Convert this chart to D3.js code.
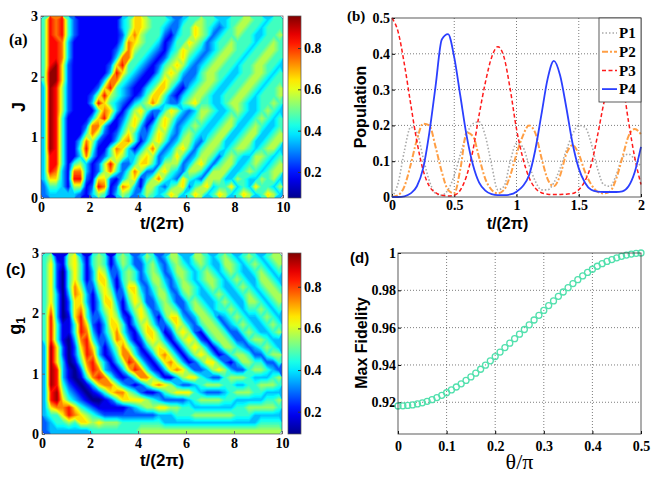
<!DOCTYPE html>
<html>
<head>
<meta charset="utf-8">
<script src="https://cdnjs.cloudflare.com/ajax/libs/d3/7.8.5/d3.min.js"></script>
<style>
    body { margin: 0; background: #fff; }
    .tick text { font-family: "Liberation Serif", serif; font-weight: bold; font-size: 14px; fill: #000; }
    .axis-label { font-family: "Liberation Sans", Arial, sans-serif; font-weight: bold; fill: #000; }
    .panel-tag { font-weight: bold; fill: #000; }
</style>
</head>
<body>
<svg id="chart"></svg>
<script>
// Size of the whole figure
var svgWidth = 654;
var svgHeight = 491;

// jet colour map, same stops as the colour bars
var jetStops = [0, 0.125, 0.375, 0.625, 0.875, 1];
var jetColors = ["#00008f", "#0000ff", "#00ffff", "#ffff00", "#ff0000", "#800000"];

// value of each digit in the heat map rows
var levels = [0.08, 0.175, 0.27, 0.365, 0.46, 0.555, 0.65, 0.745, 0.84, 0.935];

// panel (a): one string per row, J = 3 at the top down to J = 0, t/(2pi) from 0 to 10
var heatA = [
    "4878421111111346654443234454433445544344",
    "4878421111111346654432244654323455443444",
    "4878421111111257544421344654234454433445",
    "4887311111111376544312446542344544434454",
    "4887311111112475443213465432345544344554",
    "4887311111113774432124564323455443445544",
    "4896211111126844321245653234554434455443",
    "4996211111138643211356532245544334455434",
    "4996211111377432113465422345543344554344",
    "3985211112684321134664213455433445543445",
    "3985211125854321246642134554334455434445",
    "3985211138643213457532245644334554334454",
    "3985211114763135642246532355433454334543",
    "3984111136841246521465323454334543345434",
    "3984111277311356313564234543345533454334",
    "3984111475212464224653245433455334553345",
    "3984113752113674135642355324553345533455",
    "3984114841147631357423564245543455434553",
    "3884113731246533565234642355424543355434",
    "3884145312585224664255523564245533454345",
    "3873177312574247522564325542555334543455",
    "3663188216621356135743264325553354335453",
    "2443155128712763155324562456344634364435",
    "2333332135413542354346534653465346534653"
];

// panel (c): same layout, g1 = 3 at the top down to g1 = 0
var heatC = [
    "4511563145414542354235533554345434543455",
    "4621564145413542245324543454335543454345",
    "4620464136522454245423554345434543345434",
    "4620464136631454235532454345543454335543",
    "4620475225641366324542355434543345434554",
    "4630376314652256423553245433454334543455",
    "4630266313663146522454224543345433554345",
    "4730267413564135642355423554344543445434",
    "4830168422465214653146632355423454334543",
    "4841148621366413564224653245542345433454",
    "4841148731357421466412565214554224543345",
    "4841037842247631256531356521455422455433",
    "3962026863135753135653135653135543234543",
    "3962025873124774213675313565312455422455",
    "3963014785313587421367531246642135544224",
    "3983102687321368742136764223565322455432",
    "3983101478742124775311356643224555433345",
    "3984210136775321246765322345554433445554",
    "3895321012467754211245666432223455544333",
    "3896432100124666654322223455554433333445",
    "3677864321111123455665544333333344555554",
    "3446876543222222222333444555555544433333",
    "2344546656555444444433333333333333334444",
    "2333333344444444555555555555555555555555"
];

var heatXTicks = [0, 2, 4, 6, 8, 10];
var heatYTicks = [0, 1, 2, 3];
var colorbarTicks = [0.2, 0.4, 0.6, 0.8];

// panel (b): populations against t/(2pi)
var popTime = [0, 0.05, 0.1, 0.15, 0.2, 0.25, 0.3, 0.35, 0.4, 0.45, 0.5, 0.55, 0.6, 0.65, 0.7, 0.75, 0.8,
    0.85, 0.9, 0.95, 1, 1.05, 1.1, 1.15, 1.2, 1.25, 1.3, 1.35, 1.4, 1.45, 1.5, 1.55, 1.6, 1.65, 1.7, 1.75,
    1.8, 1.85, 1.9, 1.95, 2];
var popP1 = [0, 0.04, 0.13, 0.195, 0.18, 0.11, 0.045, 0.01, 0.005, 0.02, 0.06, 0.12, 0.175, 0.205, 0.21,
    0.17, 0.09, 0.02, 0.03, 0.1, 0.15, 0.14, 0.09, 0.045, 0.02, 0.02, 0.04, 0.08, 0.13, 0.175, 0.2, 0.195,
    0.15, 0.08, 0.035, 0.03, 0.06, 0.11, 0.12, 0.105, 0.085];
var popP2 = [0, 0.005, 0.03, 0.09, 0.16, 0.205, 0.2, 0.14, 0.07, 0.02, 0.01, 0.08, 0.18, 0.17, 0.11, 0.05,
    0.02, 0.01, 0.02, 0.06, 0.12, 0.17, 0.2, 0.18, 0.11, 0.05, 0.03, 0.06, 0.12, 0.145, 0.12, 0.07, 0.035,
    0.015, 0.01, 0.015, 0.05, 0.11, 0.17, 0.19, 0.175];
var popP3 = [0.5, 0.46, 0.37, 0.26, 0.155, 0.075, 0.03, 0.012, 0.005, 0.003, 0.005, 0.02, 0.06, 0.13, 0.23,
    0.32, 0.39, 0.42, 0.39, 0.3, 0.19, 0.11, 0.055, 0.025, 0.012, 0.008, 0.007, 0.007, 0.008, 0.01, 0.02,
    0.045, 0.09, 0.17, 0.26, 0.33, 0.36, 0.32, 0.21, 0.11, 0.035];
var popP4 = [0, 0, 0.002, 0.01, 0.03, 0.08, 0.18, 0.31, 0.44, 0.455, 0.39, 0.28, 0.17, 0.09, 0.04, 0.018,
    0.008, 0.005, 0.005, 0.007, 0.015, 0.03, 0.06, 0.13, 0.23, 0.33, 0.38, 0.34, 0.25, 0.15, 0.08, 0.04,
    0.02, 0.015, 0.014, 0.014, 0.014, 0.016, 0.03, 0.07, 0.14];
var popXTicks = [0, 0.5, 1, 1.5, 2];
var popYTicks = [0, 0.1, 0.2, 0.3, 0.4, 0.5];

// panel (d): max fidelity against theta/pi
var theta = [0, 0.01, 0.02, 0.03, 0.04, 0.05, 0.06, 0.07, 0.08, 0.09, 0.1, 0.11, 0.12, 0.13, 0.14, 0.15,
    0.16, 0.17, 0.18, 0.19, 0.2, 0.21, 0.22, 0.23, 0.24, 0.25, 0.26, 0.27, 0.28, 0.29, 0.3, 0.31, 0.32,
    0.33, 0.34, 0.35, 0.36, 0.37, 0.38, 0.39, 0.4, 0.41, 0.42, 0.43, 0.44, 0.45, 0.46, 0.47, 0.48, 0.49, 0.5];
var fidelity = [0.918, 0.9181, 0.9183, 0.9186, 0.9191, 0.9197, 0.9205, 0.9214, 0.9225, 0.9237,
    0.9251, 0.9266, 0.9282, 0.9299, 0.9317, 0.9336, 0.9356, 0.9377, 0.9399, 0.9422,
    0.9445, 0.9469, 0.9493, 0.9517, 0.9541, 0.9565, 0.959, 0.9615, 0.9641, 0.9666,
    0.9692, 0.9718, 0.9743, 0.9768, 0.9791, 0.9814, 0.9836, 0.9857, 0.9877, 0.9896,
    0.9913, 0.9929, 0.9943, 0.9955, 0.9965, 0.9974, 0.9982, 0.9989, 0.9994, 0.9998, 1];
var thetaTicks = [0, 0.1, 0.2, 0.3, 0.4, 0.5];
var fidelityTicks = [0.92, 0.94, 0.96, 0.98, 1];

// Where each panel sits
var boxA = {left: 41, top: 16, width: 242, height: 182};
var boxB = {left: 392, top: 18, width: 249, height: 179};
var boxC = {left: 42, top: 253, width: 240, height: 181};
var boxD = {left: 398, top: 253, width: 243, height: 181};

var svg = d3.select("#chart")
    .attr("width", svgWidth)
    .attr("height", svgHeight);

var defs = svg.append("defs");

// Draws one heat map with its colour bar
function drawHeatmap(id, rows, box, cRange) {
    var xScale = d3.scaleLinear().domain([0, 10]).range([box.left, box.left + box.width]);
    var yScale = d3.scaleLinear().domain([0, 3]).range([box.top + box.height, box.top]);
    var colorScale = d3.scaleLinear()
        .domain(jetStops.map(s => cRange[0] + s * (cRange[1] - cRange[0])))
        .range(jetColors)
        .clamp(true);

    var nx = rows[0].length;
    var ny = rows.length;
    var values = [];
    rows.forEach(function(row) {
        row.split("").forEach(function(ch) {
            values.push(levels[+ch]);
        });
    });

    var contours = d3.contours()
        .size([nx, ny])
        .thresholds(d3.range(0.05, 0.96, 0.02))(values);

    // grid units -> data units -> pixels
    var toPixels = d3.geoTransform({
        point: function(gx, gy) {
            this.stream.point(xScale(gx * 10 / nx), yScale(3 - gy * 3 / ny));
        }
    });

    defs.append("clipPath").attr("id", id + "-clip")
        .append("rect")
        .attr("x", box.left).attr("y", box.top)
        .attr("width", box.width).attr("height", box.height);

    svg.append("g")
        .attr("clip-path", `url(#${id}-clip)`)
        .selectAll("path")
        .data(contours)
        .enter()
        .append("path")
        .attr("d", d3.geoPath(toPixels))
        .attr("fill", d => colorScale(d.value + 0.01));

    // frame
    svg.append("rect")
        .attr("x", box.left).attr("y", box.top)
        .attr("width", box.width).attr("height", box.height)
        .attr("fill", "none")
        .attr("stroke", "#555")
        .attr("stroke-width", 0.7);

    // axes
    svg.append("g")
        .attr("transform", `translate(0, ${box.top + box.height})`)
        .call(d3.axisBottom(xScale).tickValues(heatXTicks).tickSizeInner(-3).tickSizeOuter(0).tickPadding(4)
            .tickFormat(d3.format("d")))
        .call(g => g.select(".domain").remove())
        .call(g => g.selectAll(".tick line").attr("stroke", "#666"));

    svg.append("g")
        .attr("transform", `translate(${box.left}, 0)`)
        .call(d3.axisLeft(yScale).tickValues(heatYTicks).tickSizeInner(-3).tickSizeOuter(0).tickPadding(3)
            .tickFormat(d3.format("d")))
        .call(g => g.select(".domain").remove())
        .call(g => g.selectAll(".tick line").attr("stroke", "#666"));

    // colour bar
    var barX = 288;
    var barWidth = 13;
    var grad = defs.append("linearGradient")
        .attr("id", id + "-grad")
        .attr("x1", 0).attr("y1", 1).attr("x2", 0).attr("y2", 0);
    grad.selectAll("stop")
        .data(d3.range(0, 1.0001, 0.05))
        .enter()
        .append("stop")
        .attr("offset", d => d)
        .attr("stop-color", d => colorScale(cRange[0] + d * (cRange[1] - cRange[0])));

    svg.append("rect")
        .attr("x", barX).attr("y", box.top)
        .attr("width", barWidth).attr("height", box.height)
        .attr("fill", `url(#${id}-grad)`)
        .attr("stroke", "#555")
        .attr("stroke-width", 0.7);

    var barScale = d3.scaleLinear().domain(cRange).range([box.top + box.height, box.top]);
    svg.append("g")
        .attr("transform", `translate(${barX + barWidth}, 0)`)
        .call(d3.axisRight(barScale).tickValues(colorbarTicks).tickSizeInner(-3).tickSizeOuter(0)
            .tickPadding(3).tickFormat(d3.format(".1f")))
        .call(g => g.select(".domain").remove())
        .call(g => g.selectAll(".tick line").attr("stroke", "#333"));
}

drawHeatmap("heatA", heatA, boxA, [0.074, 0.955]);
drawHeatmap("heatC", heatC, boxC, [0.093, 0.962]);

// Labels of the heat maps
svg.append("text")
    .attr("class", "panel-tag")
    .attr("x", 9).attr("y", 45)
    .style("font-family", "Liberation Serif, serif")
    .style("font-size", "16px")
    .text("(a)");

svg.append("text")
    .attr("class", "axis-label")
    .attr("transform", "translate(25, 107) rotate(-90)")
    .attr("text-anchor", "middle")
    .style("font-size", "18px")
    .text("J");

svg.append("text")
    .attr("class", "axis-label")
    .attr("x", boxA.left + boxA.width / 2).attr("y", 229)
    .attr("text-anchor", "middle")
    .style("font-size", "17px")
    .text("t/(2π)");

svg.append("text")
    .attr("class", "panel-tag")
    .attr("x", 6).attr("y", 275)
    .style("font-family", "Liberation Sans, Arial, sans-serif")
    .style("font-size", "16px")
    .text("(c)");

var gLabel = svg.append("text")
    .attr("class", "axis-label")
    .attr("transform", "translate(21, 326) rotate(-90)")
    .attr("text-anchor", "middle")
    .style("font-size", "18px");
gLabel.append("tspan").text("g");
gLabel.append("tspan").attr("dy", 4).style("font-size", "12px").text("1");

svg.append("text")
    .attr("class", "axis-label")
    .attr("x", boxC.left + boxC.width / 2).attr("y", 466)
    .attr("text-anchor", "middle")
    .style("font-size", "17px")
    .text("t/(2π)");

// Draws dotted grid lines of a line panel
function drawFrame(box, xScale, yScale, xGrid, yGrid) {
    svg.append("g").selectAll("line")
        .data(xGrid)
        .enter()
        .append("line")
        .attr("x1", d => xScale(d)).attr("x2", d => xScale(d))
        .attr("y1", box.top).attr("y2", box.top + box.height)
        .attr("stroke", "#444")
        .attr("stroke-width", 0.7)
        .attr("stroke-dasharray", "1,2");

    svg.append("g").selectAll("line")
        .data(yGrid)
        .enter()
        .append("line")
        .attr("x1", box.left).attr("x2", box.left + box.width)
        .attr("y1", d => yScale(d)).attr("y2", d => yScale(d))
        .attr("stroke", "#444")
        .attr("stroke-width", 0.7)
        .attr("stroke-dasharray", "1,2");
}

function drawBox(box) {
    svg.append("rect")
        .attr("x", box.left).attr("y", box.top)
        .attr("width", box.width).attr("height", box.height)
        .attr("fill", "none")
        .attr("stroke", "#333")
        .attr("stroke-width", 0.8);
}

// Panel (b)
var popX = d3.scaleLinear().domain([0, 2]).range([boxB.left, boxB.left + boxB.width]);
var popY = d3.scaleLinear().domain([0, 0.5]).range([boxB.top + boxB.height, boxB.top]);

drawFrame(boxB, popX, popY, [0.5, 1, 1.5], [0.1, 0.2, 0.3, 0.4]);

svg.append("g")
    .attr("transform", `translate(0, ${boxB.top + boxB.height})`)
    .call(d3.axisBottom(popX).tickValues(popXTicks).tickSizeInner(-3).tickSizeOuter(0).tickPadding(3)
        .tickFormat(d3.format("~g")))
    .call(g => g.select(".domain").remove());

svg.append("g")
    .attr("transform", `translate(${boxB.left}, 0)`)
    .call(d3.axisLeft(popY).tickValues(popYTicks).tickSizeInner(-3).tickSizeOuter(0).tickPadding(2)
        .tickFormat(d3.format("~g")))
    .call(g => g.select(".domain").remove());

var popSeries = [
    {name: "P1", values: popP1, color: "#a9a9a9", dash: "1.5,2", width: 1.6},
    {name: "P2", values: popP2, color: "#ff9f45", dash: "6,2,2,2", width: 2},
    {name: "P3", values: popP3, color: "#ff1a1a", dash: "4,2.5", width: 1.5},
    {name: "P4", values: popP4, color: "#2b3fff", dash: null, width: 1.8}
];

var popLine = d3.line()
    .x((d, i) => popX(popTime[i]))
    .y(d => popY(d))
    .curve(d3.curveMonotoneX);

svg.append("g")
    .selectAll("path")
    .data(popSeries)
    .enter()
    .append("path")
    .attr("d", d => popLine(d.values))
    .attr("fill", "none")
    .attr("stroke", d => d.color)
    .attr("stroke-width", d => d.width)
    .attr("stroke-dasharray", d => d.dash);

drawBox(boxB);

// legend box in the top right corner
var legend = svg.append("g").attr("transform", "translate(599, 18)");
legend.append("rect")
    .attr("width", 42).attr("height", 84)
    .attr("fill", "#fff")
    .attr("stroke", "#333")
    .attr("stroke-width", 0.8);

var legendItems = legend.selectAll("g")
    .data(popSeries)
    .enter()
    .append("g")
    .attr("transform", (d, i) => `translate(0, ${15 + i * 18.7})`);

legendItems.append("line")
    .attr("x1", 3).attr("x2", 18)
    .attr("stroke", d => d.color)
    .attr("stroke-width", d => d.width)
    .attr("stroke-dasharray", d => d.dash);

legendItems.append("text")
    .attr("x", 20).attr("dy", "0.35em")
    .style("font-family", "Liberation Serif, serif")
    .style("font-weight", "bold")
    .style("font-size", "15px")
    .text(d => d.name);

svg.append("text")
    .attr("class", "panel-tag")
    .attr("x", 347).attr("y", 21)
    .style("font-family", "Liberation Serif, serif")
    .style("font-size", "15px")
    .text("(b)");

svg.append("text")
    .attr("class", "axis-label")
    .attr("transform", "translate(366, 107) rotate(-90)")
    .attr("text-anchor", "middle")
    .style("font-size", "16px")
    .text("Population");

svg.append("text")
    .attr("class", "axis-label")
    .attr("x", boxB.left + boxB.width / 2 - 9).attr("y", 229)
    .attr("text-anchor", "middle")
    .style("font-size", "16px")
    .text("t/(2π)");

// Panel (d)
var fidX = d3.scaleLinear().domain([0, 0.5]).range([boxD.left, boxD.left + boxD.width]);
var fidY = d3.scaleLinear().domain([0.903, 1]).range([boxD.top + boxD.height, boxD.top]);

drawFrame(boxD, fidX, fidY, [0.1, 0.2, 0.3, 0.4], [0.92, 0.94, 0.96, 0.98]);

svg.append("g")
    .attr("transform", `translate(0, ${boxD.top + boxD.height})`)
    .call(d3.axisBottom(fidX).tickValues(thetaTicks).tickSizeInner(-3).tickSizeOuter(0).tickPadding(7)
        .tickFormat(d3.format("~g")))
    .call(g => g.select(".domain").remove());

svg.append("g")
    .attr("transform", `translate(${boxD.left}, 0)`)
    .call(d3.axisLeft(fidY).tickValues(fidelityTicks).tickSizeInner(-3).tickSizeOuter(0).tickPadding(2)
        .tickFormat(d3.format("~g")))
    .call(g => g.select(".domain").remove());

svg.append("g")
    .selectAll("circle")
    .data(fidelity)
    .enter()
    .append("circle")
    .attr("cx", (d, i) => fidX(theta[i]))
    .attr("cy", d => fidY(d))
    .attr("r", 3)
    .attr("fill", "none")
    .attr("stroke", "#52e0ad")
    .attr("stroke-width", 1.3);

drawBox(boxD);

svg.append("text")
    .attr("class", "panel-tag")
    .attr("x", 350).attr("y", 263)
    .style("font-family", "Liberation Sans, Arial, sans-serif")
    .style("font-size", "15px")
    .text("(d)");

svg.append("text")
    .attr("class", "axis-label")
    .attr("transform", "translate(367, 343) rotate(-90)")
    .attr("text-anchor", "middle")
    .style("font-size", "16px")
    .text("Max Fidelity");

svg.append("text")
    .attr("x", boxD.left + boxD.width / 2).attr("y", 469)
    .attr("text-anchor", "middle")
    .style("font-family", "Liberation Serif, serif")
    .style("font-size", "22px")
    .text("θ/π");
</script>
</body>
</html>
